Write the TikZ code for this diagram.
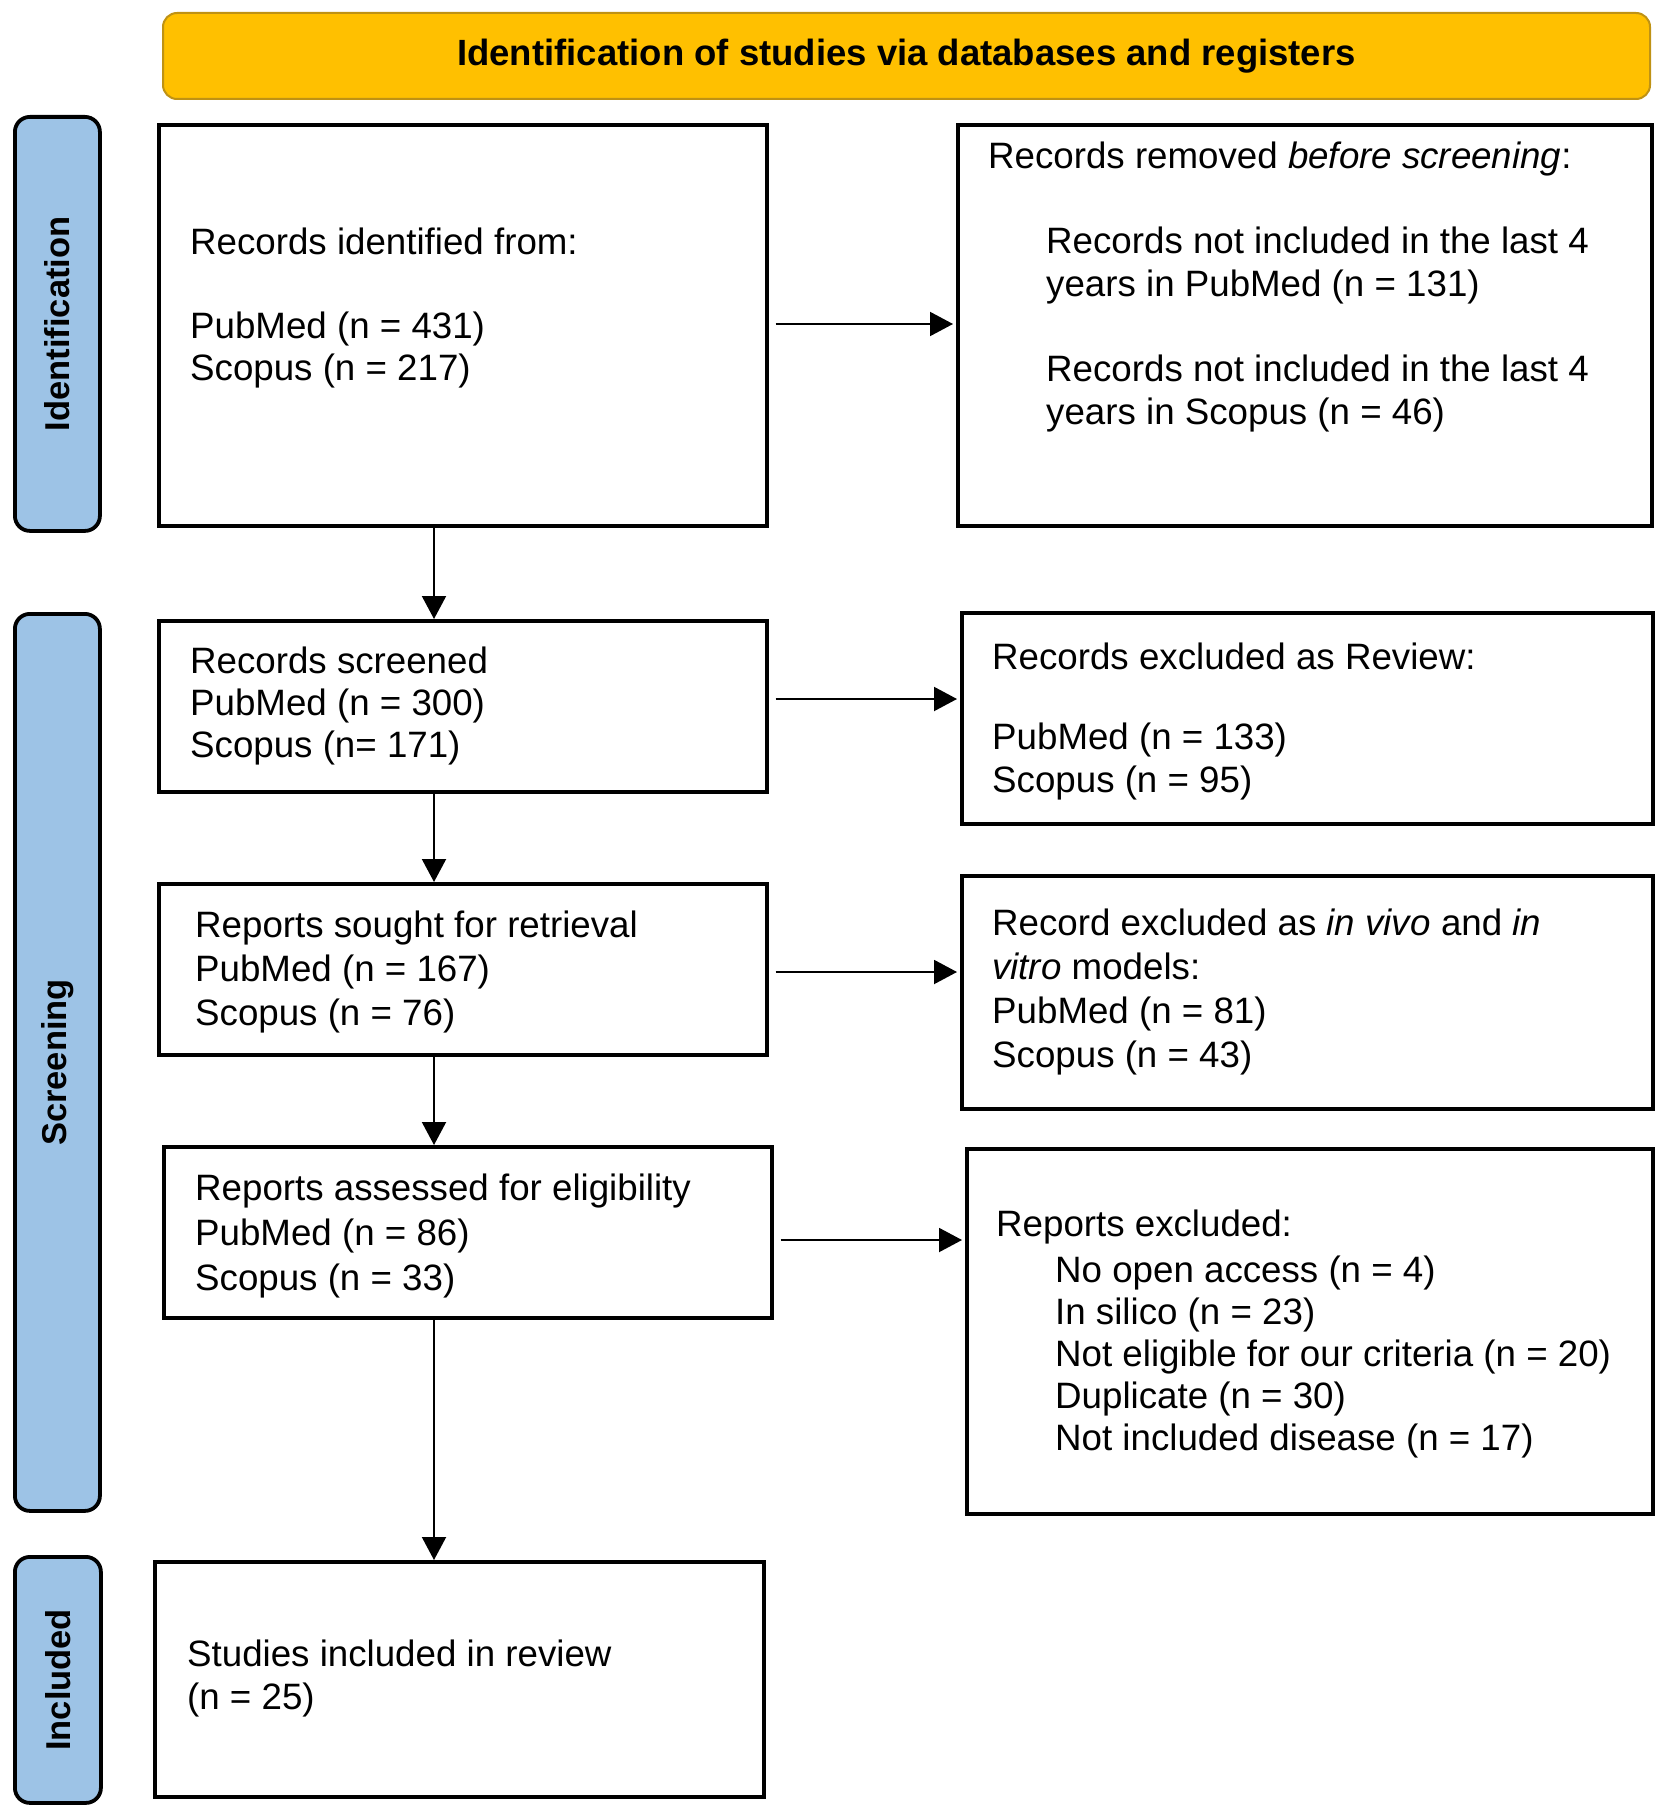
\documentclass[tikz,border=0pt]{standalone}
\usepackage{fontspec}
\setmainfont{Liberation Sans}
\usepackage{graphicx}
\usetikzlibrary{arrows.meta,calc}
\definecolor{bannerfill}{RGB}{255,192,0}
\definecolor{bannerline}{RGB}{191,146,20}
\definecolor{sidefill}{RGB}{157,195,230}
\newcommand{\fs}{\rule{0pt}{35pt}}
\begin{document}
\begin{tikzpicture}[x=1pt,y=-1pt,
  box/.style={draw=black, line width=3.6pt, fill=white, inner sep=0pt, anchor=north west},
  side/.style={draw=black, line width=3.8pt, fill=sidefill, rounded corners=15pt, inner sep=0pt, anchor=north west, font=\fontsize{34.5}{40}\selectfont\bfseries},
  banner/.style={draw=bannerline, line width=2pt, fill=bannerfill, rounded corners=14pt, inner sep=0pt, anchor=north west, font=\fontsize{36.5}{42}\selectfont\bfseries},
  txt/.style={anchor=north west, inner sep=0pt, align=left, font=\fontsize{36.7}{#1}\selectfont},
  txt/.default=42,
  arr/.style={line width=2pt, -{Triangle[length=23pt,width=24pt]}},
  harr/.style={arr, shorten <=7pt, shorten >=3pt},
]
\useasboundingbox (0,0) rectangle (1665,1819);

% banner
\node[banner, minimum width=1487pt, minimum height=86pt] (ban) at (162,12) {Identification of studies via databases and registers};

% side bars
\node[side, minimum width=85pt, minimum height=414pt] (s1) at (13,115) {\rotatebox{90}{Identification}};
\node[side, minimum width=85pt, minimum height=897pt] (s2) at (13,612) {\rotatebox{90}{Screening}};
\node[side, minimum width=86pt, minimum height=246pt] (s3) at (13,1555) {\rotatebox{90}{Included}};

% boxes
\node[box, minimum width=608pt, minimum height=401pt] (b1) at (157,123) {};
\node[box, minimum width=694pt, minimum height=401pt] (b2) at (956,123) {};
\node[box, minimum width=608pt, minimum height=171pt] (b3) at (157,619) {};
\node[box, minimum width=691pt, minimum height=211pt] (b4) at (960,611) {};
\node[box, minimum width=608pt, minimum height=171pt] (b5) at (157,882) {};
\node[box, minimum width=691pt, minimum height=233pt] (b6) at (960,874) {};
\node[box, minimum width=608pt, minimum height=171pt] (b7) at (162,1145) {};
\node[box, minimum width=686pt, minimum height=365pt] (b8) at (965,1147) {};
\node[box, minimum width=609pt, minimum height=235pt] (b9) at (153,1560) {};

% texts
\node[txt=42] (t1) at (190,219) {\fs Records identified from:\\[42pt] PubMed (n = 431)\\ Scopus (n = 217)};
\node[txt] (t2a) at (988,133) {\fs Records removed \textit{before screening}:};
\node[txt=43] (t2b) at (1046,218) {\fs Records not included in the last 4\\ years in PubMed (n = 131)\\[42pt] Records not included in the last 4\\ years in Scopus (n = 46)};
\node[txt=42] (t3) at (190,638) {\fs Records screened\\ PubMed (n = 300)\\ Scopus (n= 171)};
\node[txt=43] (t4) at (992,634) {\fs Records excluded as Review:\\[37pt] PubMed (n = 133)\\ Scopus (n = 95)};
\node[txt=44] (t5) at (195,902) {\fs Reports sought for retrieval\\ PubMed (n = 167)\\ Scopus (n = 76)};
\node[txt=44] (t6) at (992,900) {\fs Record excluded as \textit{in vivo} and \textit{in}\\ \textit{vitro} models:\\ PubMed (n = 81)\\ Scopus (n = 43)};
\node[txt=45] (t7) at (195,1165) {\fs Reports assessed for eligibility\\ PubMed (n = 86)\\ Scopus (n = 33)};
\node[txt] (t8a) at (996,1201) {\fs Reports excluded:};
\node[txt=42] (t8b) at (1055,1247) {\fs No open access (n = 4)\\ In silico (n = 23)\\ Not eligible for our criteria (n = 20)\\ Duplicate (n = 30)\\ Not included disease (n = 17)};
\node[txt=43] (t9) at (187,1631) {\fs Studies included in review\\ (n = 25)};

% vertical connectors
\coordinate (ax) at (434,0);
\draw[arr] (b1.south -| ax) -- (b3.north -| ax);
\draw[arr] (b3.south -| ax) -- (b5.north -| ax);
\draw[arr] (b5.south -| ax) -- (b7.north -| ax);
\draw[arr] (b7.south -| ax) -- (b9.north -| ax);

% horizontal connectors
\draw[harr] (b1.east |- 0,324) -- (b2.west |- 0,324);
\draw[harr] (b3.east |- 0,699) -- (b4.west |- 0,699);
\draw[harr] (b5.east |- 0,972) -- (b6.west |- 0,972);
\draw[harr] (b7.east |- 0,1240) -- (b8.west |- 0,1240);
\end{tikzpicture}
\end{document}
